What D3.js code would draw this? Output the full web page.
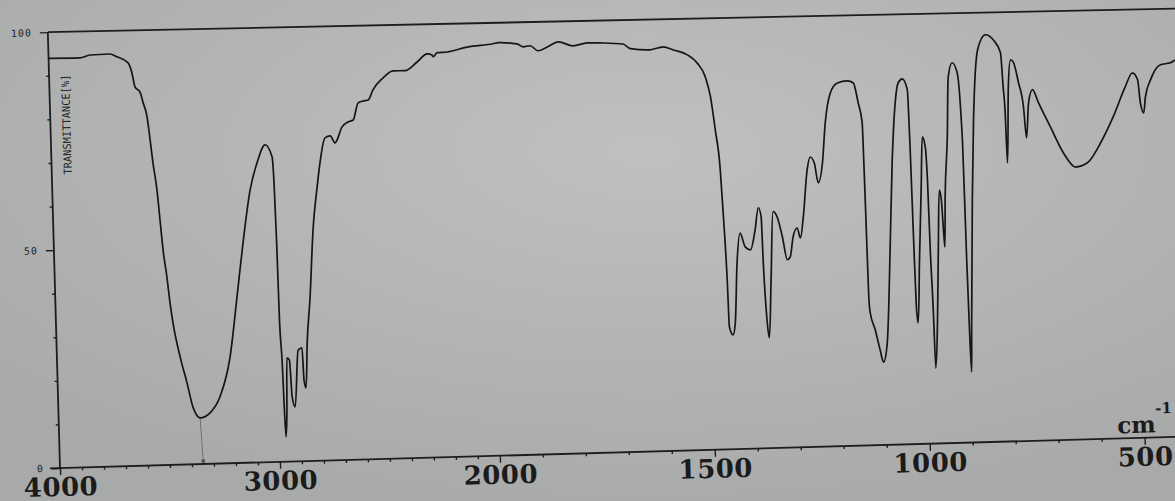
<!DOCTYPE html>
<html>
<head>
<meta charset="utf-8">
<title>IR spectrum</title>
<script src="https://cdn.jsdelivr.net/npm/d3@7"></script>
<style>
  html, body { margin: 0; padding: 0; overflow: hidden; background: #b9bbbb; }
  svg { display: block; }
  .trace { fill: none; stroke: #151515; stroke-width: 1.7; stroke-linejoin: round; }
  .axis path { display: none; }
  .axis line { stroke: #1d1d1d; stroke-width: 1.4; }
  .frame { stroke: #1d1d1d; stroke-width: 1.8; }
  .xaxis text { font-family: "DejaVu Serif", serif; font-weight: bold; font-size: 26px; fill: #1b1b1b; }
  .yaxis text { font-family: "DejaVu Sans Mono", monospace; font-size: 10px; fill: #262626; letter-spacing: 1px; }
</style>
</head>
<body>
<svg width="1175" height="501"></svg>
<script>
// spectrum (cm-1, %T)
var wavenumber = [4000, 3857, 3811, 3720, 3689, 3640, 3623, 3611, 3589, 3576, 3560, 3549, 3539, 3524, 3514, 3504,
  3490, 3479, 3468, 3440, 3412, 3388, 3357, 3311, 3264, 3213, 3174, 3140, 3101, 3066, 3027, 2997, 2991, 2987,
  2984, 2977, 2973, 2969, 2962, 2955, 2944, 2936, 2924, 2903, 2885, 2880, 2872, 2861, 2842, 2820, 2796, 2780,
  2754, 2730, 2709, 2675, 2647, 2624, 2599, 2576, 2553, 2530, 2482, 2436, 2381, 2326, 2279, 2257, 2252, 2234,
  2188, 2097, 1989, 1977, 1933, 1919, 1903, 1885, 1863, 1837, 1803, 1770, 1740, 1687, 1670, 1624, 1594, 1570,
  1538, 1516, 1498, 1487, 1478, 1469, 1465, 1460, 1458, 1450, 1444, 1436, 1427, 1416, 1404, 1392, 1383, 1377,
  1375, 1370, 1366, 1358, 1349, 1340, 1329, 1319, 1312, 1304, 1294, 1287, 1279, 1267, 1259, 1250, 1242, 1231,
  1222, 1208, 1191, 1168, 1154, 1144, 1136, 1134, 1132, 1130, 1119, 1109, 1102, 1092, 1079, 1069, 1058, 1050,
  1040, 1029, 1026, 1024, 1022, 1019, 1012, 1003, 997, 991, 988, 986, 983, 981, 974, 967, 961, 957, 954, 952,
  948, 939, 933, 923, 912, 904, 902, 900, 898, 895, 885, 877, 863, 844, 826, 810, 806, 803, 801, 794, 787, 781,
  770, 760, 755, 748, 738, 725, 699, 670, 643, 615, 583, 552, 522, 505, 493, 488, 481, 476, 463, 439, 416, 404, 400];
var transmittance = [94.0, 93.9, 94.5, 94.6, 93.9, 92.5, 90.1, 86.9, 85.7, 83.2, 80.0, 74.7, 69.4, 63.1, 56.2, 49.3,
  43.1, 37.1, 32.5, 24.7, 18.7, 13.1, 10.6, 11.7, 15.3, 24.4, 38.1, 50.4, 62.5, 68.7, 72.8, 70.0, 63.1, 50.2,
  32.5, 22.7, 11.9, 5.7, 11.1, 23.8, 23.3, 14.8, 12.5, 25.5, 26.0, 18.6, 16.8, 27.1, 37.6, 53.0, 62.8, 68.3,
  74.0, 74.4, 72.8, 76.4, 77.5, 77.9, 81.8, 82.2, 82.4, 84.7, 87.4, 88.9, 88.9, 90.8, 92.6, 92.3, 91.9, 92.8,
  92.9, 93.9, 94.5, 94.7, 94.3, 93.6, 93.8, 92.6, 93.4, 94.5, 93.5, 94.1, 94.0, 93.6, 92.5, 92.1, 92.7, 91.9,
  90.7, 88.8, 85.6, 80.9, 73.3, 64.1, 54.2, 38.9, 28.1, 26.2, 28.9, 42.7, 49.5, 46.3, 45.6, 50.1, 55.2, 53.1,
  42.5, 29.4, 25.3, 38.6, 54.2, 53.0, 48.4, 43.1, 43.7, 48.3, 50.3, 48.0, 52.8, 63.6, 66.5, 65.1, 60.5, 65.1,
  74.2, 81.1, 83.3, 83.7, 83.2, 78.6, 74.0, 57.0, 34.1, 30.6, 26.4, 21.8, 19.0, 23.4, 45.4, 64.6, 78.4, 82.9,
  83.8, 81.3, 65.9, 46.1, 31.4, 27.8, 41.5, 58.9, 70.4, 68.1, 60.5, 44.4, 31.3, 17.3, 27.6, 45.1, 58.1, 55.8, 48.9, 45.0,
  56.5, 70.3, 84.0, 87.2, 84.9, 68.8, 42.6, 25.8, 16.2, 25.8, 55.6, 74.0, 90.0, 93.4, 92.2, 89.2, 81.4, 75.4, 63.9, 81.3, 87.5, 87.0,
  82.2, 76.6, 69.5, 77.5, 80.5, 77.5, 71.9, 65.8, 62.5, 63.4, 67.9, 73.8, 80.6, 83.7, 82.1, 76.8, 74.5, 78.1, 82.0, 85.4, 85.8, 86.4, 86.5];

var xMajorTicks = [4000, 3000, 2000, 1500, 1000, 500];
var xMinorTicks = [3900, 3800, 3700, 3600, 3500, 3400, 3300, 3200, 3100, 2900, 2800, 2700, 2600, 2500, 2400,
  2300, 2200, 2100, 1900, 1800, 1700, 1600, 1400, 1300, 1200, 1100, 900, 800, 700, 600, 400];
var yMajorTicks = [0, 50, 100];
var yMinorTicks = [10, 20, 30, 40, 60, 70, 80, 90];
var yTickLabels = {0: "0", 50: "50", 100: "100"};
var markerPeak = 3357;

var plotH = 436;
var svg = d3.select("svg");

// photo-ish background
var defs = svg.append("defs");
var grad = defs.append("radialGradient").attr("id", "bg")
  .attr("cx", "55%").attr("cy", "30%").attr("r", "75%");
grad.append("stop").attr("offset", "0%").attr("stop-color", "#bfc1c1");
grad.append("stop").attr("offset", "100%").attr("stop-color", "#a8aaaa");
svg.append("rect").attr("width", 1175).attr("height", 501).attr("fill", "url(#bg)");

// the sheet sits slightly tilted in the photo
var g = svg.append("g")
  .attr("transform", "translate(60,468) rotate(-1.6) translate(0," + (-plotH) + ")");

var x = d3.scaleLinear().domain([4000, 2000, 400]).range([0, 440, 1128]);
var y = d3.scaleLinear().domain([0, 100]).range([plotH, 0]);

// frame lines (top edge a bit less tilted, photo perspective)
g.append("line").attr("class", "frame").attr("x1", -10).attr("x2", 1220).attr("y1", plotH).attr("y2", plotH);
g.append("line").attr("class", "frame").attr("x1", 0).attr("x2", 0).attr("y1", 0).attr("y2", plotH);
g.append("line").attr("class", "frame").attr("x1", 0).attr("x2", 1220).attr("y1", 0).attr("y2", 8.5);

// x axis
var xMajor = g.append("g").attr("class", "axis xaxis")
  .attr("transform", "translate(0," + plotH + ")")
  .call(d3.axisBottom(x).tickValues(xMajorTicks).tickSize(7).tickSizeOuter(0).tickFormat(d3.format("d")));
xMajor.selectAll("text").attr("y", 28).attr("dy", 0).attr("letter-spacing", "0.5px");

g.append("g").attr("class", "axis")
  .attr("transform", "translate(0," + plotH + ")")
  .call(d3.axisBottom(x).tickValues(xMinorTicks).tickSize(3).tickSizeOuter(0).tickFormat(""));

// y axis
var yMajor = g.append("g").attr("class", "axis yaxis")
  .call(d3.axisLeft(y).tickValues(yMajorTicks).tickSize(8).tickSizeOuter(0)
    .tickFormat(function(d) { return yTickLabels[d]; }));
yMajor.selectAll("text").attr("x", -16);

g.append("g").attr("class", "axis")
  .call(d3.axisLeft(y).tickValues(yMinorTicks).tickSize(3).tickSizeOuter(0).tickFormat(""));

// y title
g.append("text")
  .attr("transform", "translate(20,93) rotate(-90)")
  .attr("text-anchor", "middle")
  .attr("textLength", 100)
  .attr("lengthAdjust", "spacingAndGlyphs")
  .style("font-family", "'DejaVu Sans Mono', monospace")
  .style("font-size", "11px")
  .style("fill", "#262626")
  .text("TRANSMITTANCE[%]");

// unit
var unit = g.append("text")
  .attr("x", 1058).attr("y", plotH - 5)
  .style("font-family", "'DejaVu Serif', serif")
  .style("font-weight", "bold")
  .style("font-size", "23px")
  .style("fill", "#1b1b1b");
unit.append("tspan").text("cm");
unit.append("tspan").attr("dy", -19).style("font-size", "15px").text("-1");

// peak marker (pencil-like)
var markerT = transmittance[wavenumber.indexOf(markerPeak)];
g.append("line")
  .attr("x1", x(markerPeak)).attr("y1", y(markerT))
  .attr("x2", x(markerPeak) + 2).attr("y2", y(0) - 1)
  .attr("stroke", "#6a6a6a").attr("stroke-width", 0.9);
g.append("circle").attr("cx", x(markerPeak) + 2).attr("cy", y(0) - 3).attr("r", 2)
  .attr("fill", "#555");

// trace
var pts = wavenumber.map(function(w, i) { return [w, transmittance[i]]; });
var line = d3.line()
  .curve(d3.curveMonotoneX)
  .x(function(d) { return x(d[0]); })
  .y(function(d) { return y(d[1]); });
g.append("path").datum(pts).attr("class", "trace").attr("d", line);
</script>
</body>
</html>
